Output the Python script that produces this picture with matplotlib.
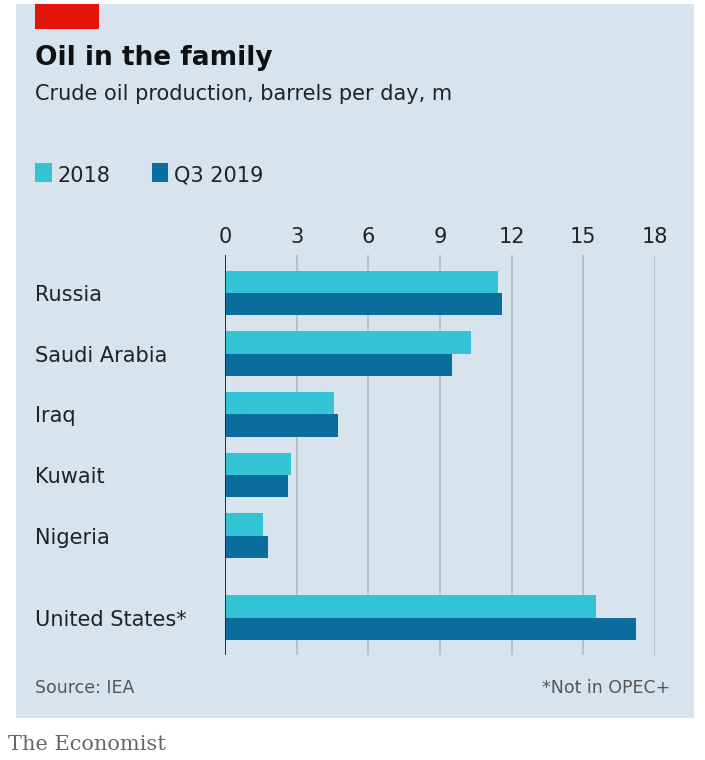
import matplotlib.pyplot as plt
from matplotlib.patches import Rectangle

countries = ["Russia", "Saudi Arabia", "Iraq", "Kuwait", "Nigeria", "United States*"]
v2018 = [11.45, 10.3, 4.55, 2.75, 1.6, 15.55]
vq3 = [11.6, 9.5, 4.75, 2.65, 1.8, 17.2]
ypos = [0, 1, 2, 3, 4, 5.35]
ticks = [0, 3, 6, 9, 12, 15, 18]

BG = "#d7e4ee"
C1 = "#35c3d6"
C2 = "#0a6d9e"

fig = plt.figure(figsize=(7.05, 7.6), dpi=100)
fig.patches.append(Rectangle((0.022, 0.055), 0.963, 0.94, transform=fig.transFigure,
                             facecolor=BG, edgecolor="none", zorder=-10))
fig.patches.append(Rectangle((0.05, 0.962), 0.09, 0.033, transform=fig.transFigure,
                             facecolor="#e3120b", edgecolor="none"))

ax_left, ax_width = 0.319, 0.61
ax = fig.add_axes([ax_left, 0.138, ax_width, 0.526])
ax.set_facecolor(BG)
h = 0.37
ax.barh([y - h / 2 for y in ypos], v2018, height=h, color=C1, zorder=3)
ax.barh([y + h / 2 for y in ypos], vq3, height=h, color=C2, zorder=3)
ax.set_xlim(0, 18)
ax.set_ylim(5.35 + 0.62, -0.62)
ax.set_xticks(ticks)
ax.xaxis.tick_top()
ax.tick_params(axis="x", length=0, labelsize=15, colors="#222222", pad=6)
ax.set_yticks(ypos)
ax.set_yticklabels(countries)
ax.tick_params(axis="y", length=0, labelsize=15, colors="#222222", pad=0)
# left-align country names at the panel margin
for lbl in ax.get_yticklabels():
    lbl.set_horizontalalignment("left")
    lbl.set_x(-(ax_left - 0.05) / ax_width)
ax.grid(axis="x", color="#b5bfc6", linewidth=1.3, zorder=0)
for s in ax.spines.values():
    s.set_visible(False)
ax.axvline(0, color="#222222", linewidth=1.3, zorder=4)

fig.text(0.05, 0.915, "Oil in the family", fontsize=19, fontweight="bold", color="#111111")
fig.text(0.05, 0.868, "Crude oil production, barrels per day, m", fontsize=15, color="#222222")
fig.patches.append(Rectangle((0.05, 0.761), 0.024, 0.024, transform=fig.transFigure,
                             facecolor=C1, edgecolor="none"))
fig.text(0.082, 0.761, "2018", fontsize=15, color="#222222")
fig.patches.append(Rectangle((0.215, 0.761), 0.024, 0.024, transform=fig.transFigure,
                             facecolor=C2, edgecolor="none"))
fig.text(0.247, 0.761, "Q3 2019", fontsize=15, color="#222222")
fig.text(0.05, 0.088, "Source: IEA", fontsize=12.5, color="#555555")
fig.text(0.95, 0.088, "*Not in OPEC+", fontsize=12.5, color="#555555", ha="right")
fig.text(0.012, 0.013, "The Economist", fontsize=15, color="#666666", family="DejaVu Serif")

fig.savefig("out.png", dpi=100)
